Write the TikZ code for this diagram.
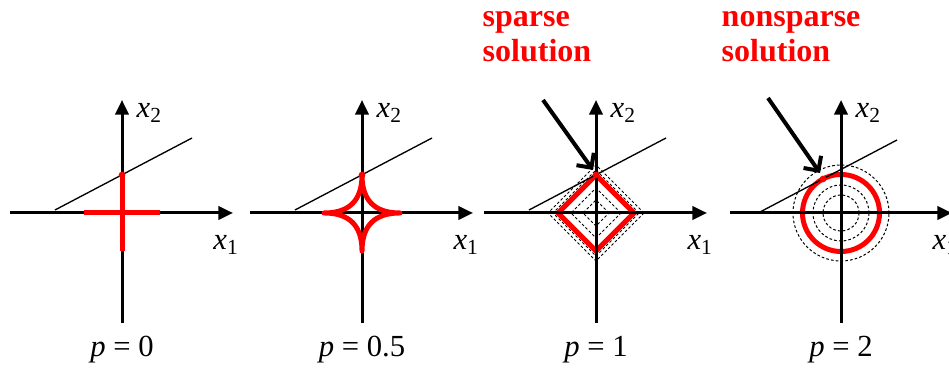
\documentclass[tikz,border=0pt]{standalone}
\usepackage{fontspec}
\setmainfont{Liberation Serif}
\newfontfamily\timesfont{Liberation Serif}
\usetikzlibrary{arrows.meta}
\definecolor{norm}{HTML}{FF0000}

\begin{document}
\begin{tikzpicture}[
  x=.75pt, y=.75pt,
  axis/.style={line width=2.25pt, -{Triangle[length=11pt,width=10pt]}},
  constraint/.style={line width=1pt},
  ball/.style={draw=norm, line width=3.75pt},
  level/.style={line width=.75pt, dash pattern=on 2pt off 1.6pt},
  hit/.style={circle, fill=norm, inner sep=0pt, minimum size=5pt},
  pointer/.style={line width=3pt, -{Straight Barb[length=8pt,width=16pt]}},
  axlabel/.style={font=\timesfont\fontsize{23}{26}\selectfont},
  caption/.style={anchor=base, font=\timesfont\fontsize{23}{26}\selectfont},
  callout/.style={anchor=base west, text=norm, align=left,
    font=\timesfont\fontsize{24}{26.25}\selectfont\bfseries}
]
\useasboundingbox (0,0) rectangle (949,370);

% p = 0: only the axes carry the ball.
\begin{scope}[shift={(122,157)}]
\draw[axis] (-112,0) -- (111,0);
\draw[axis] (0,-110) -- (0,113);
\draw[constraint] (-67,3) -- (70,75);
\draw[ball] (-38,0) -- (38,0) (0,-38) -- (0,38);
\node[hit] (hitzero) at (0,38) {};
\node[axlabel, anchor=west] (xtwozero) at (10,100) {\textit{x}\textsubscript{2}};
\node[axlabel] (xonezero) at (104,-32) {\textit{x}\textsubscript{1}};
\node[caption] (pzero) at (0,-144) {\textit{p} = 0};
\end{scope}

% p = 0.5: concave ball.
\begin{scope}[shift={(362,157)}]
\draw[axis] (-112,0) -- (111,0);
\draw[axis] (0,-110) -- (0,113);
\draw[constraint] (-67,3) -- (70,75);
\draw[ball, line join=round] plot[domain=0:360, samples=361]
  ({38*cos(\x)*cos(\x)*cos(\x)*abs(cos(\x))},
   {38*sin(\x)*sin(\x)*sin(\x)*abs(sin(\x))}) -- cycle;
\node[hit] (hithalf) at (0,38) {};
\node[axlabel, anchor=west] (xtwohalf) at (10,100) {\textit{x}\textsubscript{2}};
\node[axlabel] (xonehalf) at (104,-32) {\textit{x}\textsubscript{1}};
\node[caption] (phalf) at (0,-144) {\textit{p} = 0.5};
\end{scope}

% p = 1: diamond touches the line on an axis.
\begin{scope}[shift={(596,157)}]
\foreach \r in {13,25,43,48}
  \draw[level] (\r,0) -- (0,\r) -- (-\r,0) -- (0,-\r) -- cycle;
\draw[ball, line join=miter] (38,0) -- (0,38) -- (-38,0) -- (0,-38) -- cycle;
\draw[axis] (-112,0) -- (111,0);
\draw[axis] (0,-110) -- (0,113);
\draw[constraint] (-67,3) -- (70,75);
\node[hit] (hitone) at (0,38) {};
\node[axlabel, anchor=west] (xtwoone) at (10,100) {\textit{x}\textsubscript{2}};
\node[axlabel] (xoneone) at (104,-32) {\textit{x}\textsubscript{1}};
\node[caption] (pone) at (0,-144) {\textit{p} = 1};
\node[callout] (sparse) at (-118,151) {sparse\\solution};
\coordinate (tailone) at (-53,113);
\coordinate (tipone) at (-3,43);
\draw[pointer] (tailone) -- (tipone);
\end{scope}

% p = 2: circle touches the line off the axes.
\begin{scope}[shift={(841,157)}]
\foreach \r in {18,28,48}
  \draw[level] (0,0) circle[radius=\r];
\draw[ball] (0,0) circle[radius=38.5];
\draw[axis] (-111,0) -- (111,0);
\draw[axis] (0,-110) -- (0,113);
\draw[constraint] (-81,1) -- (56,73);
\node[hit] (hittwo) at (-18,34) {};
\node[axlabel, anchor=west] (xtwotwo) at (10,100) {\textit{x}\textsubscript{2}};
\node[axlabel] (xonetwo) at (104,-32) {\textit{x}\textsubscript{1}};
\node[caption] (ptwo) at (0,-144) {\textit{p} = 2};
\node[callout] (nonsparse) at (-124,151) {nonsparse\\solution};
\coordinate (tailtwo) at (-73,115);
\coordinate (tiptwo) at (-21,40);
\draw[pointer] (tailtwo) -- (tiptwo);
\end{scope}
\end{tikzpicture}
\end{document}
